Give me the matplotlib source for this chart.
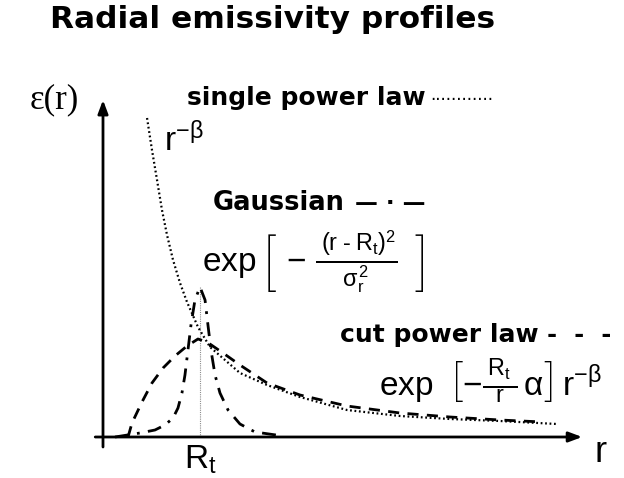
import numpy as np
import matplotlib
matplotlib.use("Agg")
from matplotlib import pyplot as plt

plt.rcParams['mathtext.fontset'] = 'custom'
plt.rcParams['mathtext.rm'] = 'Liberation Sans'
plt.rcParams['mathtext.it'] = 'Liberation Sans'
plt.rcParams['mathtext.bf'] = 'Liberation Sans:bold'
plt.rcParams['font.family'] = ['Liberation Sans', 'DejaVu Sans']

# schematic profiles, r in units of R_t, emissivity in arbitrary units
r_single = [0.454, 0.505, 0.557, 0.608, 0.660, 0.722, 0.794, 0.866, 0.979, 1.103, 1.412, 1.691, 2.031, 2.515, 3.062, 3.577, 4.093, 4.680]
eps_single = [3.19, 2.87, 2.57, 2.27, 2.02, 1.77, 1.54, 1.35, 1.10, 0.90, 0.64, 0.52, 0.40, 0.27, 0.21, 0.18, 0.16, 0.13]

r_gauss = [0.124, 0.381, 0.536, 0.639, 0.722, 0.773, 0.814, 0.845, 0.876, 0.907, 0.948, 1.0,
           1.052, 1.082, 1.113, 1.155, 1.206, 1.289, 1.412, 1.567, 1.856]
eps_gauss = [0.0, 0.04, 0.07, 0.12, 0.19, 0.29, 0.44, 0.62, 0.87, 1.12, 1.37, 1.50,
             1.37, 1.12, 0.87, 0.62, 0.44, 0.27, 0.13, 0.05, 0.01]

r_cut = [0.258, 0.299, 0.402, 0.505, 0.619, 0.742, 0.866, 0.979, 1.072, 1.237, 1.412, 1.691, 2.031, 2.515, 3.062, 3.577, 4.093, 4.536]
eps_cut = [0.0, 0.14, 0.35, 0.54, 0.69, 0.81, 0.91, 0.98, 0.95, 0.84, 0.72, 0.54, 0.42, 0.31, 0.24, 0.20, 0.17, 0.15]

R_t = 1.0
rt_top = 1.5

fig = plt.figure(figsize=(6.24, 4.78), dpi=100)
ax = fig.add_axes([0, 0, 1, 1])
ax.set_xlim(-103 / 97, 521 / 97)
ax.set_ylim(-0.41, 4.37)
ax.axis('off')

# axes drawn as arrows
arrow = dict(arrowstyle='-|>,head_length=0.8,head_width=0.3', lw=2, color='k', shrinkA=0, shrinkB=0)
ax.annotate('', xy=(0, 3.37), xytext=(0, -0.10), arrowprops=arrow)
ax.annotate('', xy=(4.94, 0), xytext=(-0.08, 0), arrowprops=arrow)

ax.plot([R_t, R_t], [0, rt_top], color='0.55', lw=0.8, ls=(0, (1, 1)))

ax.plot(r_single, eps_single, color='k', lw=1.6, ls=(0, (0.8, 1.2)))
ax.plot(r_gauss, eps_gauss, color='k', lw=2.0, ls=(0, (5, 3, 1, 3)))
ax.plot(r_cut, eps_cut, color='k', lw=2.0, ls=(0, (4, 3)))

bold = dict(family='DejaVu Sans', fontweight='bold')

fig.text(0.436, 1 - 28 / 478, 'Radial emissivity profiles', ha='center', va='baseline',
         fontsize=22.5, **bold)

ax.text(-0.505, 3.37, 'ε(r)', ha='center', va='center', fontsize=25,
        family=['Liberation Serif', 'DejaVu Serif'])

ax.text(0.87, 3.32, 'single power law', ha='left', va='baseline', fontsize=18, **bold)
ax.text(3.37, 3.32, '············', ha='left', va='baseline', fontsize=12, family='DejaVu Sans')
ax.text(0.63, 2.97, r'$\mathrm{r}^{-\beta}$', ha='left', va='center', fontsize=24)

ax.text(1.13, 2.27, 'Gaussian', ha='left', va='baseline', fontsize=18.5, **bold)
ax.text(2.60, 2.27, '— · —', ha='left', va='baseline', fontsize=16.5, **bold)
ax.text(1.02, 1.75,
        r'$\mathrm{exp}\,\left[\,-\,\frac{\;(\mathrm{r\;\text{-}\;R_t})^2}{\sigma_r^2}\;\;\right]$',
        ha='left', va='center', fontsize=24)

ax.text(2.44, 0.95, 'cut power law', ha='left', va='baseline', fontsize=18, **bold)
ax.text(4.58, 0.95, '-  -  -', ha='left', va='baseline', fontsize=17.5, **bold)
ax.text(2.85, 0.55,
        r'$\mathrm{exp}\;\;\left[-\frac{\;R_t\;}{r}\,\alpha\right]\,\mathrm{r}^{-\beta}$',
        ha='left', va='center', fontsize=24)

ax.text(R_t, -0.23, r'$\mathrm{R_t}$', ha='center', va='center', fontsize=24)
ax.text(5.13, -0.15, 'r', ha='center', va='center', fontsize=26)

fig.savefig('out.png', dpi=100)
